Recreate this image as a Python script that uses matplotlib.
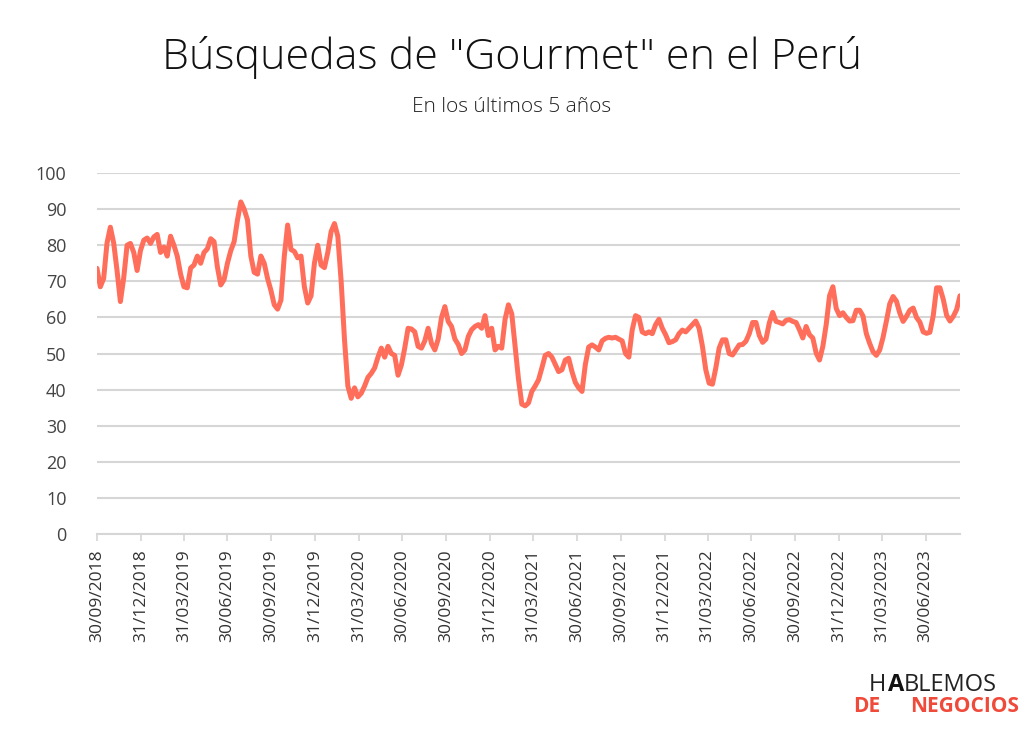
import matplotlib
matplotlib.use("Agg")
import matplotlib.pyplot as plt
import pandas as pd

# weekly search interest, starting 30/09/2018
start_date = "2018-09-30"
values = [
    73.6, 68.5, 70.8, 80.6, 85.0, 80.6, 73.0, 64.4, 71.0, 80.0,
    80.5, 78.0, 73.0, 78.5, 81.4, 82.0, 80.5, 82.3, 83.0, 78.0,
    79.5, 77.0, 82.5, 80.0, 77.0, 72.0, 68.5, 68.2, 73.7, 74.5,
    77.0, 75.0, 78.0, 79.0, 81.8, 81.0, 74.0, 69.0, 70.5, 75.0,
    78.5, 81.0, 87.0, 92.0, 90.0, 87.0, 77.0, 72.5, 72.0, 77.0,
    75.0, 70.8, 67.5, 63.5, 62.3, 64.8, 77.0, 85.6, 78.8, 78.3,
    76.5, 77.0, 68.5, 64.0, 66.0, 75.0, 80.0, 74.5, 73.8, 78.0,
    83.8, 86.0, 82.5, 70.0, 53.8, 41.0, 37.6, 40.5, 38.0, 39.0,
    41.0, 43.4, 44.5, 46.0, 49.0, 51.5, 49.0, 52.0, 50.0, 49.5,
    44.0, 46.8, 51.5, 57.0, 56.8, 56.0, 52.0, 51.5, 53.5, 57.0,
    52.8, 51.0, 54.0, 60.0, 63.0, 58.9, 57.5, 54.0, 52.5, 50.0,
    51.0, 54.7, 56.6, 57.5, 58.0, 57.0, 60.5, 55.0, 57.0, 51.0,
    52.0, 51.5, 59.5, 63.5, 61.0, 52.0, 43.0, 36.0, 35.5, 36.3,
    39.5, 41.0, 42.7, 46.0, 49.5, 50.0, 49.0, 47.0, 45.0, 45.5,
    48.2, 48.7, 45.0, 42.0, 40.5, 39.5, 47.0, 51.8, 52.4, 51.8,
    51.0, 53.5, 54.2, 54.5, 54.3, 54.5, 54.0, 53.5, 50.0, 49.0,
    56.5, 60.5, 60.0, 56.0, 55.5, 56.0, 55.5, 58.0, 59.5, 57.0,
    55.2, 53.0, 53.3, 53.8, 55.5, 56.5, 56.0, 57.0, 58.0, 59.0,
    57.0, 52.0, 45.5, 41.8, 41.5, 46.0, 51.5, 53.8, 53.8, 50.0,
    49.6, 51.0, 52.4, 52.5, 53.4, 55.5, 58.6, 58.6, 55.0, 53.1,
    54.0, 58.5, 61.4, 58.9, 58.6, 58.2, 59.2, 59.4, 58.9, 58.6,
    56.6, 54.3, 57.5, 55.2, 54.3, 50.1, 48.2, 52.0, 58.0, 66.0,
    68.5, 62.5, 60.5, 61.3, 60.0, 59.0, 59.1, 62.0, 62.0, 60.4,
    55.5, 52.8, 50.5, 49.5, 51.0, 54.5, 59.0, 63.8, 65.8, 64.5,
    61.2, 58.9, 60.3, 62.0, 62.6, 60.0, 58.7, 56.0, 55.6, 55.9,
    60.5, 68.2, 68.2, 65.0, 60.6, 59.0, 60.3, 62.2, 66.0,
]

tick_labels = [
    "30/09/2018", "31/12/2018", "31/03/2019", "30/06/2019", "30/09/2019",
    "31/12/2019", "31/03/2020", "30/06/2020", "30/09/2020", "31/12/2020",
    "31/03/2021", "30/06/2021", "30/09/2021", "31/12/2021", "31/03/2022",
    "30/06/2022", "30/09/2022", "31/12/2022", "31/03/2023", "30/06/2023",
]
y_ticks = [0, 10, 20, 30, 40, 50, 60, 70, 80, 90, 100]

dates = pd.date_range(start_date, periods=len(values), freq="7D")
tick_dates = pd.to_datetime(tick_labels, format="%d/%m/%Y")

plt.rcParams["font.family"] = ["Open Sans", "DejaVu Sans"]

fig = plt.figure(figsize=(10.24, 7.37), dpi=100)
ax = fig.add_axes([0.0947, 0.2754, 0.8428, 0.4898])

grid_col = "#d6d6d6"
ax.plot(dates, values, color="#ff6e5a", lw=3.6,
        solid_joinstyle="round", solid_capstyle="round", zorder=3)

ax.set_ylim(0, 100)
ax.set_xlim(dates[0], dates[-1])
ax.set_yticks(y_ticks)
ax.set_yticklabels([str(v) for v in y_ticks])
ax.yaxis.grid(True, color=grid_col, lw=1.5)
ax.set_axisbelow(True)

ax.set_xticks(tick_dates)
ax.set_xticklabels(tick_labels, rotation=90)

for s in ["top", "right", "left"]:
    ax.spines[s].set_visible(False)
ax.spines["bottom"].set_color(grid_col)
ax.spines["bottom"].set_linewidth(1.5)

ax.tick_params(axis="y", length=0, pad=22, labelsize=13, labelcolor="#444444")
ax.tick_params(axis="x", length=5, width=1.2, color=grid_col,
               pad=6, labelsize=12.5, labelcolor="#333333")

fig.text(0.5, 0.922, 'Búsquedas de "Gourmet" en el Perú', ha="center",
         va="center", fontsize=31, color="#111111", fontweight="light")
fig.text(0.5, 0.855, "En los últimos 5 años", ha="center", va="center",
         fontsize=15, color="#222222", fontweight="light")

# logo
fig.text(0.848, 0.07, "H", fontsize=17, color="#222222", ha="left", va="center")
fig.text(0.867, 0.07, "A", fontsize=17, color="#111111", ha="left", va="center",
         fontweight="bold")
fig.text(0.883, 0.07, "BLEMOS", fontsize=17, color="#222222", ha="left", va="center")
fig.text(0.833, 0.042, "DE", fontsize=15, color="#ef4a3a", ha="left", va="center",
         fontweight="bold")
fig.text(0.889, 0.042, "NEGOCIOS", fontsize=15, color="#ef4a3a", ha="left",
         va="center", fontweight="bold")

fig.savefig("out.png", dpi=100)
